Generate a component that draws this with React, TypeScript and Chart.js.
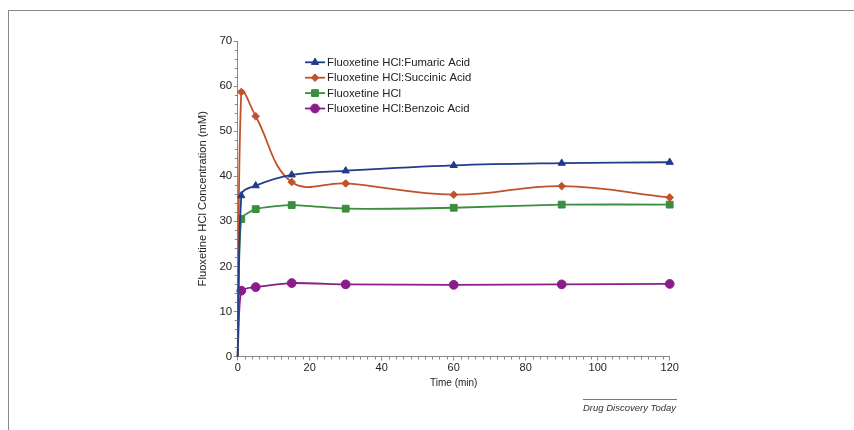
import React, { useEffect, useRef } from 'react';
import { Chart, registerables } from 'chart.js';
import { drawPoint } from 'chart.js/helpers';

Chart.register(...registerables);

const times = [0, 1, 5, 15, 30, 60, 90, 120];
const fumaric = [0, 35.7, 37.9, 40.3, 41.2, 42.4, 42.9, 43.1];
const succinic = [0, 58.7, 53.3, 38.7, 38.4, 35.9, 37.8, 35.3];
const hclOnly = [0, 30.5, 32.7, 33.6, 32.8, 33.0, 33.7, 33.7];
const benzoic = [0, 14.6, 15.4, 16.3, 16.0, 15.9, 16.0, 16.1];

const seriesNames = [
  'Fluoxetine HCl:Fumaric Acid',
  'Fluoxetine HCl:Succinic Acid',
  'Fluoxetine HCl',
  'Fluoxetine HCl:Benzoic Acid',
];
const seriesValues = [fumaric, succinic, hclOnly, benzoic];
const colors = ['#203d8a', '#c0522b', '#3b8d3f', '#8b1d8b'];
const pointStyles = ['triangle', 'rectRot', 'rect', 'circle'];
const pointRadii = [4.2, 3.8, 4.8, 4.4];
const tensions = [0.4, 0.4, 0.2, 0.2];

const yTitle = 'Fluoxetine HCl Concentration (mM)';
const xTitle = 'Time (min)';
const sourceText = 'Drug Discovery Today';

const FONT = '"Liberation Sans", Arial, Helvetica, sans-serif';

const extrasPlugin = {
  id: 'extras',
  afterDraw(chart: any) {
    const { ctx, chartArea, scales } = chart;
    const xs = scales.x;
    const ys = scales.y;
    ctx.save();
    // minor ticks
    ctx.strokeStyle = '#888';
    ctx.lineWidth = 1;
    ctx.beginPath();
    for (let v = 0; v <= 120; v += 2) {
      if (v % 20 === 0) continue;
      const px = Math.round(xs.getPixelForValue(v)) + 0.5;
      ctx.moveTo(px, chartArea.bottom);
      ctx.lineTo(px, chartArea.bottom + 3);
    }
    for (let v = 0; v <= 70; v += 2) {
      if (v % 10 === 0) continue;
      const py = Math.round(ys.getPixelForValue(v)) + 0.5;
      ctx.moveTo(chartArea.left - 3, py);
      ctx.lineTo(chartArea.left, py);
    }
    ctx.stroke();

    // legend
    const lx0 = 305;
    const lx1 = 325;
    const ly0 = 62.3;
    const step = 15.4;
    seriesNames.forEach((name, i) => {
      const y = ly0 + i * step;
      ctx.strokeStyle = colors[i];
      ctx.fillStyle = colors[i];
      ctx.lineWidth = 1.8;
      ctx.beginPath();
      ctx.moveTo(lx0, y);
      ctx.lineTo(lx1, y);
      ctx.stroke();
      ctx.lineWidth = 1;
      drawPoint(ctx, { pointStyle: pointStyles[i], radius: pointRadii[i], rotation: 0, borderWidth: 1 } as any, (lx0 + lx1) / 2, y);
      ctx.fillStyle = '#222';
      ctx.font = `11.3px ${FONT}`;
      ctx.textBaseline = 'middle';
      ctx.textAlign = 'left';
      ctx.fillText(name, 327, y + 0.5);
    });
    ctx.restore();
  },
};

function ChartCanvas() {
  const ref = useRef<HTMLCanvasElement | null>(null);
  useEffect(() => {
    if (!ref.current) return;
    const datasets = seriesNames.map((name, i) => ({
      label: name,
      data: times.map((t, k) => ({ x: t, y: seriesValues[i][k] })),
      borderColor: colors[i],
      backgroundColor: colors[i],
      borderWidth: 1.8,
      pointStyle: pointStyles[i],
      pointRadius: times.map((t) => (t === 0 ? 0 : pointRadii[i])),
      pointBorderWidth: 1,
      tension: tensions[i],
      fill: false,
      clip: false,
    }));
    const chart = new Chart(ref.current, {
      type: 'line',
      data: { datasets },
      plugins: [extrasPlugin],
      options: {
        animation: false,
        responsive: false,
        devicePixelRatio: 1,
        layout: { padding: { left: 196, top: 41, right: 184.3, bottom: 41 } },
        plugins: { legend: { display: false }, tooltip: { enabled: false } },
        scales: {
          x: {
            type: 'linear',
            min: 0,
            max: 120,
            ticks: { stepSize: 20, color: '#222', font: { size: 11, family: FONT }, padding: 1, maxRotation: 0 },
            grid: { display: true, drawOnChartArea: false, drawTicks: true, tickLength: 4, color: '#888', tickColor: '#888' },
            border: { display: true, color: '#888', width: 1 },
            title: { display: true, text: xTitle, color: '#222', font: { size: 10, family: FONT }, padding: 0 },
            afterFit: (s: any) => { s.height = 32.5; },
          },
          y: {
            type: 'linear',
            min: 0,
            max: 70,
            ticks: { stepSize: 10, color: '#222', font: { size: 11.5, family: FONT }, padding: 1.5 },
            grid: { display: true, drawOnChartArea: false, drawTicks: true, tickLength: 4, color: '#888', tickColor: '#888' },
            border: { display: true, color: '#888', width: 1 },
            title: { display: true, text: yTitle, color: '#222', font: { size: 11.2, family: FONT }, padding: 0 },
            afterFit: (s: any) => { s.width = 41.7; },
          },
        },
      } as any,
    });
    return () => chart.destroy();
  }, []);
  return (
    <canvas
      ref={ref}
      width={854}
      height={430}
      style={{ position: 'absolute', left: 0, top: 0, width: 854, height: 430 }}
    />
  );
}

export default function App() {
  return (
    <div style={{ position: 'fixed', left: 0, top: 0, width: 854, height: 430, background: '#fff', overflow: 'hidden' }}>
      <div
        style={{
          position: 'absolute',
          left: 8,
          top: 10,
          width: 846,
          height: 420,
          boxSizing: 'border-box',
          borderTop: '1.5px solid #888',
          borderLeft: '1.5px solid #888',
        }}
      />
      <ChartCanvas />
      <div
        style={{
          position: 'absolute',
          left: 583,
          top: 399,
          width: 94,
          borderTop: '1px solid #777',
          fontFamily: FONT,
          fontStyle: 'italic',
          fontSize: '9.5px',
          lineHeight: '16px',
          color: '#333',
          whiteSpace: 'nowrap',
        }}
      >
        {sourceText}
      </div>
    </div>
  );
}
